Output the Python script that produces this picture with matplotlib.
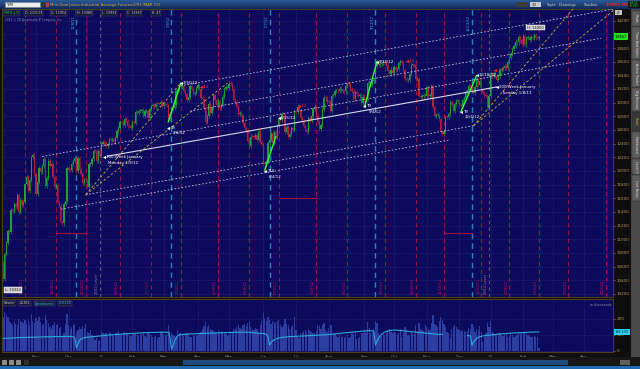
import numpy as np
import pandas as pd
import matplotlib
matplotlib.use("Agg")
import matplotlib.pyplot as plt
from matplotlib.patches import Rectangle
from matplotlib.colors import LinearSegmentedColormap
import matplotlib.transforms as mtransforms

nan = np.nan

# ---------------- data ----------------
holidays = ["2011-11-24", "2011-12-26", "2012-01-02", "2012-01-16", "2012-02-20", "2012-04-06",
            "2012-05-28", "2012-07-04", "2012-09-03", "2012-10-29", "2012-10-30", "2012-11-22",
            "2012-12-25", "2013-01-01", "2013-01-21", "2013-02-18", "2013-03-29"]

first_open = 10650
close_2011_10 = [10420, 10780, 10940, 11123, 11103, 11433, 11416, 11519, 11478, 11644, 11397, 11577, 11505, 11541, 11809, 11913, 11706, 11869, 12209, 12231, 11955]
close_2011_11 = [11658, 11836, 12044, 11983, 12069, 12170, 11781, 11894, 12153, 12079, 12096, 11906, 11770, 11796, 11547, 11494, 11258, 11231, 11523, 11556, 12046]
close_2011_12 = [12020, 12019, 12098, 12151, 12196, 11997, 12184, 12021, 11955, 11823, 11868, 11866, 11766, 12103, 12107, 12169, 12294, 12291, 12151, 12288, 12217]
close_2012_01 = [12397, 12418, 12415, 12360, 12393, 12462, 12449, 12471, 12422, 12482, 12578, 12623, 12720, 12709, 12675, 12758, 12735, 12660, 12653, 12633]
close_2012_02 = [12716, 12705, 12862, 12845, 12878, 12884, 12891, 12801, 12874, 12878, 12781, 12904, 12950, 12966, 12938, 12985, 12983, 12982, 13005, 12952]
close_2012_03 = [12980, 12977, 12962, 12759, 12837, 12907, 12922, 12959, 13177, 13194, 13253, 13232, 13239, 13170, 13124, 13046, 13081, 13241, 13197, 13126, 13145, 13212]
close_2012_04 = [13264, 13199, 13075, 13060, 12929, 12716, 12806, 12987, 12850, 12921, 13115, 13032, 12965, 13029, 12928, 12964, 13090, 13204, 13229, 13214]
close_2012_05 = [13280, 13269, 13207, 13038, 13008, 12932, 12835, 12855, 12821, 12695, 12632, 12598, 12442, 12369, 12504, 12502, 12496, 12529, 12455, 12581, 12419, 12393]
close_2012_06 = [12119, 12101, 12127, 12414, 12460, 12554, 12411, 12573, 12496, 12652, 12767, 12742, 12837, 12824, 12574, 12640, 12502, 12535, 12627, 12602, 12880]
close_2012_07 = [12871, 12943, 12897, 12772, 12736, 12653, 12605, 12573, 12777, 12727, 12806, 12909, 12943, 12823, 12722, 12618, 12676, 12888, 13075, 13073, 13009]
close_2012_08 = [13008, 12878, 13096, 13118, 13169, 13175, 13165, 13207, 13169, 13172, 13164, 13250, 13275, 13271, 13203, 13172, 13057, 13157, 13124, 13102, 13107, 13000, 13090]
close_2012_09 = [13035, 13047, 13292, 13306, 13254, 13323, 13333, 13539, 13593, 13553, 13565, 13577, 13596, 13579, 13558, 13457, 13413, 13485, 13437]
close_2012_10 = [13515, 13482, 13494, 13575, 13610, 13583, 13473, 13344, 13326, 13328, 13424, 13551, 13557, 13548, 13343, 13345, 13102, 13077, 13104, 13107, 13096]
close_2012_11 = [13232, 13093, 13112, 13245, 12932, 12811, 12815, 12815, 12757, 12570, 12542, 12588, 12796, 12788, 12836, 13010, 12968, 12878, 12985, 13022, 13025]
close_2012_12 = [12966, 12952, 13034, 13074, 13155, 13170, 13248, 13245, 13170, 13135, 13235, 13351, 13252, 13311, 13190, 13139, 13114, 13096, 12938, 13104]
close_2013_01 = [13412, 13391, 13435, 13384, 13328, 13390, 13471, 13488, 13507, 13534, 13511, 13596, 13650, 13712, 13779, 13825, 13895, 13881, 13954, 13910, 13861]
close_2013_02 = [13975, 13850, 13945, 13955, 13915, 13960, 13940, 13985, 13950, 13940, 13967]

vol_2011_10 = [210, 245, 230, 215, 190, 175, 160, 185, 170, 165, 200, 190, 180, 175, 195, 170, 185, 160, 230, 190, 175]
vol_2011_11 = [205, 190, 215, 180, 160, 170, 225, 195, 175, 150, 140, 165, 180, 160, 170, 145, 150, 95, 110, 170, 230]
vol_2011_12 = [165, 140, 150, 160, 170, 120, 130, 150, 140, 155, 145, 170, 120, 110, 130, 100, 90, 70, 80, 60, 70]
vol_2012_01 = [120, 115, 105, 110, 100, 120, 115, 105, 95, 110, 115, 125, 105, 100, 110, 120, 115, 110, 100, 95]
vol_2012_02 = [110, 105, 115, 100, 95, 100, 105, 110, 95, 90, 115, 105, 100, 85, 90, 95, 80, 90, 110, 120]
vol_2012_03 = [100, 95, 105, 160, 125, 110, 100, 95, 90, 130, 115, 110, 100, 95, 105, 110, 100, 85, 90, 95, 100, 95]
vol_2012_04 = [100, 110, 120, 140, 155, 180, 150, 160, 140, 130, 125, 120, 115, 130, 120, 125, 115, 110, 105, 95]
vol_2012_05 = [100, 110, 120, 135, 140, 150, 165, 145, 140, 160, 170, 155, 175, 185, 150, 140, 130, 145, 140, 120, 165, 190]
vol_2012_06 = [235, 200, 185, 215, 195, 170, 190, 180, 175, 185, 195, 160, 150, 165, 200, 170, 165, 140, 150, 160, 215]
vol_2012_07 = [130, 90, 80, 115, 110, 125, 130, 120, 140, 125, 120, 115, 110, 125, 160, 155, 140, 165, 175, 130, 120]
vol_2012_08 = [145, 160, 165, 110, 105, 95, 90, 100, 85, 95, 90, 85, 100, 80, 85, 110, 105, 120, 75, 80, 90, 110, 115]
vol_2012_09 = [125, 110, 180, 145, 115, 120, 140, 190, 175, 115, 100, 95, 105, 100, 110, 130, 140, 120, 115]
vol_2012_10 = [120, 110, 100, 115, 140, 90, 115, 150, 130, 100, 95, 120, 110, 105, 160, 120, 175, 140, 130, 125, 160]
vol_2012_11 = [150, 140, 130, 175, 225, 170, 160, 150, 185, 215, 195, 170, 150, 120, 110, 80, 140, 150, 160, 150, 140]
vol_2012_12 = [130, 125, 130, 125, 120, 125, 145, 135, 170, 150, 120, 140, 130, 155, 120, 60, 90, 110, 175, 150]
vol_2013_01 = [190, 120, 110, 105, 100, 110, 115, 100, 95, 100, 105, 90, 95, 105, 100, 90, 95, 100, 110, 105, 115]
vol_2013_02 = [120, 115, 110, 100, 95, 90, 85, 95, 90, 85, 20.812]

oi_2011_10 = [79, 79, 80, 80, 81, 81, 82, 82, 82, 83, 83, 84, 84, 84, 85, 85, 85, 86, 86, 86, 86]
oi_2011_11 = [87, 87, 87, 88, 88, 88, 88, 89, 89, 89, 89, 90, 90, 90, 90, 90, 90, 91, 91, 91, 91]
oi_2011_12 = [91, 91, 90, 89, 80, 19, 45, 68, 76, 80, 83, 85, 86, 87, 88, 89, 90, 91, 92, 93, 94]
oi_2012_01 = [95, 96, 97, 98, 99, 100, 101, 101, 102, 103, 104, 104, 105, 106, 106, 107, 108, 108, 109, 110]
oi_2012_02 = [110, 111, 111, 112, 112, 113, 113, 114, 114, 115, 115, 115, 116, 116, 116, 117, 117, 117, 117, 118]
oi_2012_03 = [118, 118, 117, 115, 90, 12, 35, 60, 80, 95, 100, 102, 103, 104, 105, 105, 106, 106, 107, 107, 108, 108]
oi_2012_04 = [109, 109, 110, 110, 110, 111, 111, 111, 112, 112, 112, 113, 113, 113, 114, 114, 114, 115, 115, 115]
oi_2012_05 = [115, 116, 116, 116, 117, 117, 117, 117, 118, 118, 118, 118, 117, 117, 116, 115, 114, 113, 112, 111, 110, 110]
oi_2012_06 = [109, 107, 104, 92, 37, 52, 63, 70, 75, 78, 81, 83, 85, 86, 87, 88, 89, 90, 90, 91, 91]
oi_2012_07 = [92, 92, 93, 93, 94, 94, 95, 95, 96, 96, 97, 97, 98, 98, 99, 99, 100, 100, 101, 101, 102]
oi_2012_08 = [103, 104, 105, 106, 107, 108, 109, 110, 111, 112, 113, 114, 115, 116, 117, 118, 119, 120, 121, 122, 123, 124, 125]
oi_2012_09 = [125, 126, 126, 127, 127, 126, 124, 37, 60, 80, 95, 105, 112, 118, 122, 125, 127, 129, 130]
oi_2012_10 = [131, 131, 130, 129, 128, 127, 126, 125, 124, 123, 122, 121, 120, 119, 118, 117, 116, 115, 114, 113, 112]
oi_2012_11 = [111, 110, 109, 108, 107, 106, 105, 104, 104, 104, 104, nan, nan, nan, nan, nan, nan, nan, nan, nan, nan]
oi_2012_12 = [nan, nan, nan, nan, nan, 96, 96, 94, 37, 55, 68, 79, 85, 89, 92, 94, 96, 97, 98, 99]
oi_2013_01 = [100, 101, 102, 103, 104, 105, 106, 107, 108, 108, 109, 110, 111, 111, 112, 113, 113, 114, 114, 115, 115]
oi_2013_02 = [116, 116, 117, 117, 118, 118, 118, 119, 119, 119, 119.1]

month_starts = ["2011-11-01", "2011-12-01", "2012-01-03", "2012-02-01", "2012-03-01", "2012-04-02",
                "2012-05-01", "2012-06-01", "2012-07-02", "2012-08-01", "2012-09-04", "2012-10-01",
                "2012-11-01", "2012-12-03", "2013-01-02", "2013-02-01", "2013-03-01", "2013-04-01"]
month_names = ["Nov", "Dec", "12", "Feb", "Mar", "Apr", "May", "Jun", "Jul", "Aug", "Sep", "Oct",
               "Nov", "Dec", "13", "Feb", "Mar", "Apr"]
opex_dates = ["2011-10-21", "2011-11-18", "2011-12-16", "2012-01-20", "2012-02-17", "2012-03-16",
              "2012-04-20", "2012-05-18", "2012-06-15", "2012-07-20", "2012-08-17", "2012-09-21",
              "2012-10-19", "2012-11-16", "2012-12-21", "2013-01-18", "2013-02-15", "2013-03-15",
              "2013-04-19"]
roll_dates = ["2011-12-08", "2012-03-08", "2012-06-07", "2012-09-13", "2012-12-13"]
year_end_dates = ["2011-12-30", "2012-12-31"]
year_end_labels = ["2011 Level", "2012 Level"]

channel_lines = [("2012-03-16", 13247, "2013-04-30", 14379),
                 ("2012-03-26", 12876, "2013-04-16", 13943),
                 ("2011-11-07", 12212, "2013-04-16", 13665),
                 ("2011-12-16", 11652, "2012-12-14", 12662),
                 ("2011-11-23", 11441, "2012-11-21", 12452)]
regression_line = ("2012-01-09", 12216, "2013-01-08", 13230)
fan_lines = [("2011-12-16", 11652, "2012-03-16", 13288),
             ("2011-12-16", 11652, "2012-04-30", 13288),
             ("2012-12-14", 12662, "2013-03-21", 14400),
             ("2012-12-14", 12662, "2013-04-30", 14390)]
swing_lines = [("2012-03-06", 12720, "2012-03-16", 13285),
               ("2012-06-04", 12015, "2012-06-13", 12500),
               ("2012-09-04", 12940, "2012-09-14", 13600),
               ("2012-12-04", 12870, "2012-12-18", 13395)]
range_lines = [("2011-11-18", "2011-12-16", 11088),
               ("2012-06-15", "2012-07-20", 11609),
               ("2012-11-16", "2012-12-13", 11092)]
white_notes = [("2012-01-05", 12205, "200-Week January", "Monday 1/9/12"),
               ("2012-03-06", 12634, "T8", "3/6/12"),
               ("2012-03-16", 13288, "3/16/12", ""),
               ("2012-06-04", 12000, "T10", "6/4/12"),
               ("2012-06-15", 12770, "6/15/12", ""),
               ("2012-09-04", 12945, "T9", "9/4/12"),
               ("2012-09-14", 13600, "9/14/12", ""),
               ("2012-12-04", 12870, "T9", "12/4/12"),
               ("2012-12-18", 13400, "12/18/12", ""),
               ("2013-01-08", 13230, "200 Week January", "Tuesday 1/8/13")]
red_notes = [("2012-04-04", 13234, "-12"), ("2012-07-05", 12956, "-12"),
             ("2012-10-11", 13610, "-12"), ("2013-01-07", 13478, "-12")]
price_ticks = list(range(10200, 14201, 200))
last_price = 13967
info_items = ["D: 2/15/13", "O: 13954", "H: 13980", "L: 13933", "C: 13967", "R: 47"]
high_label, low_label = "H: 14000", "L: 10320"
tab_names = ["Trade", "Time And Sales", "Active Trader", "Big Buttons", "Chart", "Dashboard", "Level II", "Live News"]

# ---------------- assemble ----------------
closes = np.array(close_2011_10 + close_2011_11 + close_2011_12 + close_2012_01 + close_2012_02 +
                  close_2012_03 + close_2012_04 + close_2012_05 + close_2012_06 + close_2012_07 +
                  close_2012_08 + close_2012_09 + close_2012_10 + close_2012_11 + close_2012_12 +
                  close_2013_01 + close_2013_02, float)
volume = np.array(vol_2011_10 + vol_2011_11 + vol_2011_12 + vol_2012_01 + vol_2012_02 + vol_2012_03 +
                  vol_2012_04 + vol_2012_05 + vol_2012_06 + vol_2012_07 + vol_2012_08 + vol_2012_09 +
                  vol_2012_10 + vol_2012_11 + vol_2012_12 + vol_2013_01 + vol_2013_02, float)
oi = np.array(oi_2011_10 + oi_2011_11 + oi_2011_12 + oi_2012_01 + oi_2012_02 + oi_2012_03 +
              oi_2012_04 + oi_2012_05 + oi_2012_06 + oi_2012_07 + oi_2012_08 + oi_2012_09 +
              oi_2012_10 + oi_2012_11 + oi_2012_12 + oi_2013_01 + oi_2013_02, float)
last_oi = oi[-1]

cal = pd.bdate_range("2011-10-03", "2013-04-30", freq="C", holidays=holidays)


def X(d):
    return float(cal.searchsorted(pd.Timestamp(d)))


def short(d):
    t = pd.Timestamp(d)
    return f"{t.month}/{t.day}/{t.year % 100}"


W, H = 640, 369
NAVY = "#0c0a5c"
BORDER = "#4d3c1e"
TAN = "#b39560"

fig = plt.figure(figsize=(6.4, 3.69), dpi=100)
fig.patch.set_facecolor("#0e0e0e")


def frect(x0, y0, x1, y1):
    return [x0 / W, 1 - y1 / H, (x1 - x0) / W, (y1 - y0) / H]


def box(x0, y0, x1, y1, fc, ec="none", lw=0.4, z=5):
    fig.patches.append(Rectangle((x0 / W, 1 - y1 / H), (x1 - x0) / W, (y1 - y0) / H,
                                 transform=fig.transFigure, facecolor=fc, edgecolor=ec,
                                 lw=lw, zorder=z))


def ftext(x, y, s, **kw):
    kw.setdefault("va", "center")
    kw.setdefault("zorder", 10)
    fig.text(x / W, 1 - y / H, s, **kw)


# ---------- main price panel ----------
ax = fig.add_axes(frect(2, 9, 613, 297))
ax.set_facecolor(NAVY)
ax.set_xlim(-0.8, 391.6)
ax.set_ylim(10155, 14371)
mx = [X(d) for d in month_starts]
ax.set_xticks(mx)
ax.set_yticks(price_ticks)
# the 14000 label sits under the last-price box in the reference
ax.set_yticklabels(["" if abs(t - last_price) < 60 else str(t) for t in price_ticks])
ax.yaxis.tick_right()
ax.tick_params(axis="y", labelsize=3, labelcolor=TAN, color=TAN, length=1.5, width=0.4, pad=1)
ax.tick_params(axis="x", length=0, labelbottom=False)
ax.grid(True, color="#3a3a86", ls=(0, (1, 2)), lw=0.5)
ax.set_axisbelow(True)
for s in ax.spines.values():
    s.set_color(BORDER)
    s.set_linewidth(0.8)

# vertical event lines
for d in opex_dates:
    xi = X(d)
    ax.axvline(xi, color="#a0103c", ls=(0, (4, 3)), lw=0.8, zorder=1)
    ax.text(xi - 0.7, 10205, short(d), rotation=90, ha="right", va="bottom",
            fontsize=2.6, color="#c01848", zorder=2)
for d in roll_dates:
    xi = X(d)
    ax.axvline(xi, color="#2a88b4", ls=(0, (4, 3)), lw=1.0, zorder=1)
    ax.text(xi - 0.6, 14280, short(d), rotation=90, ha="right", va="top",
            fontsize=2.6, color="#38b0d8", zorder=2)
for d, lab in zip(year_end_dates, year_end_labels):
    xi = X(d)
    ax.axvline(xi, color="#5c5c70", ls=(0, (3, 3)), lw=0.8, zorder=1)
    ax.text(xi - 0.7, 10205, lab, rotation=90, ha="right", va="bottom",
            fontsize=2.6, color="#8a8a8a", zorder=2)

# candles
n = len(closes)
xs = np.arange(n)
opens = np.concatenate([[first_open], closes[:-1]])
up = closes >= opens
cols = np.where(up, "#1f9e3c", "#b1203f")
lo = np.minimum(opens, closes)
hi = np.maximum(opens, closes)
WICK = 30
ax.vlines(xs, lo - WICK, hi + WICK, colors=cols, lw=0.45, zorder=3)
ax.bar(xs, np.maximum(hi - lo, 12), bottom=lo, width=0.8, color=cols, lw=0, zorder=3)

# red range lines
for d0, d1, p in range_lines:
    ax.plot([X(d0), X(d1)], [p, p], color="#a01040", lw=0.8, zorder=4)

# channel lines
for d0, p0, d1, p1 in channel_lines:
    ax.plot([X(d0), X(d1)], [p0, p1], color="#c6c6e6", lw=0.6, ls=(0, (2, 2.2)), zorder=4)
d0, p0, d1, p1 = regression_line
ax.plot([X(d0), X(d1)], [p0, p1], color="#d8d8e8", lw=0.8, zorder=4)
for d0, p0, d1, p1 in fan_lines:
    ax.plot([X(d0), X(d1)], [p0, p1], color="#c8b040", lw=0.6, ls=(0, (3, 2.5)), zorder=4)
for d0, p0, d1, p1 in swing_lines:
    ax.plot([X(d0), X(d1)], [p0, p1], color="#33ff33", lw=1.0, zorder=5)

# notes
for d, p, t1, t2 in white_notes:
    xi = X(d)
    ax.plot([xi], [p], marker="<", ms=2.2, color="white", mec="none", zorder=6)
    ax.text(xi + 1.3, p, t1, fontsize=2.9, color="white", va="center", ha="left", zorder=6)
    if t2:
        ax.text(xi + 2.5, p - 85, t2, fontsize=2.9, color="white", va="center", ha="left", zorder=6)
for d, p, t in red_notes:
    xi = X(d)
    ax.plot([xi], [p], marker="<", ms=2.2, color="#ff2020", mec="none", zorder=6)
    ax.text(xi + 1.3, p, t, fontsize=2.9, color="#ff3030", va="center", ha="left", zorder=6)

ax.text(X("2013-02-12") + 1, 14100, high_label, fontsize=2.6, color="#202020", ha="center",
        va="center", zorder=7,
        bbox=dict(boxstyle="square,pad=0.25", fc="#d0d0d0", ec="#ffffff", lw=0.3))
ax.text(1.0, 10255, low_label, fontsize=2.6, color="#202020", ha="left", va="center", zorder=7,
        bbox=dict(boxstyle="square,pad=0.25", fc="#d0d0d0", ec="#ffffff", lw=0.3))
# copyright line sits just below the info row (about y = 20 px)
ax.text(0.005, 0.962, "2012 \u00a9 TD Ameritrade IP Company, Inc.", transform=ax.transAxes,
        fontsize=2.1, color="#8a8ab0", ha="left", va="center", zorder=7)

trans = mtransforms.blended_transform_factory(ax.transAxes, ax.transData)
ax.text(1.003, last_price, str(last_price), transform=trans, fontsize=2.8, color="#000000",
        ha="left", va="center", zorder=8, clip_on=False,
        bbox=dict(boxstyle="square,pad=0.3", fc="#22e022", ec="none"))

# ---------- volume panel ----------
av = fig.add_axes(frect(2, 299, 613, 352))
av.set_facecolor(NAVY)
av.set_xlim(-0.8, 391.6)
av.set_ylim(-6.25, 325)
av.bar(xs, volume, width=0.8, color="#2c3ea2", lw=0, zorder=2)
av.plot(xs, oi, color="#2aaad8", lw=0.8, zorder=3)
av.set_xticks(mx)
av.set_xticklabels(month_names)
av.tick_params(axis="x", length=0, labelsize=3, labelcolor="#8c8c8c", pad=2)
av.set_yticks([0, 100, 200])
av.set_yticklabels(["0", "100", "200"])
av.yaxis.tick_right()
av.tick_params(axis="y", labelsize=3, labelcolor=TAN, color=TAN, length=1.5, width=0.4, pad=1)
av.grid(True, color="#3a3a86", ls=(0, (1, 2)), lw=0.5)
av.set_axisbelow(True)
for s in av.spines.values():
    s.set_color(BORDER)
    s.set_linewidth(0.8)
transv = mtransforms.blended_transform_factory(av.transAxes, av.transData)
av.text(1.003, last_oi, f"{last_oi * 1000:,.0f}", transform=transv, fontsize=2.4, color="#002030",
        ha="left", va="center", zorder=8, clip_on=False,
        bbox=dict(boxstyle="square,pad=0.25", fc="#30d0f0", ec="none"))
av.text(0.997, 0.93, "in thousands", transform=av.transAxes, fontsize=2.4, color="#9090a0",
        ha="right", va="top")

# volume panel header boxes
vb = dict(boxstyle="square,pad=0.2", fc="#16163a", ec="#5a5a6a", lw=0.3)
ftext(4, 303.5, "Volume", fontsize=2.2, color="#d0d0d0", bbox=vb)
ftext(20, 303.5, f"{volume[-1] * 1000:,.0f}", fontsize=2.2, color="#d0d0d0", bbox=vb)
ftext(35, 303.5, "OpenInterest", fontsize=2.2, color="#30c0f0", bbox=vb)
ftext(59, 303.5, f"{last_oi * 1000:,.0f}", fontsize=2.2, color="#30c0f0", bbox=vb)

# ---------- header ----------
ah = fig.add_axes(frect(0, 0, 640, 9))
ah.imshow(np.linspace(0, 1, 20)[:, None],
          cmap=LinearSegmentedColormap.from_list("hdr", ["#2c5a98", "#102a58"]),
          aspect="auto", extent=[0, 1, 0, 1])
ah.axis("off")
box(5, 1.8, 40, 7.2, "#ececec", ec="#808080", z=6)
ftext(7, 4.6, "YM", fontsize=2.8, color="#000000")
box(41, 1.8, 45, 7.2, "#333333", z=6)
box(46, 2.5, 49, 6.5, "#c83a3a", z=6)
ftext(50, 4.6, "Mini Dow Jones Industrial Average Futures,ETH (MAR 13)", fontsize=2.8, color="#e0a040")
box(517, 1.8, 528, 7.2, "#3c3c3c", z=6)
box(530, 1.8, 541, 7.2, "#c8c8c8", z=6)
ftext(532, 4.6, "1D", fontsize=2.5, color="#000000")
ftext(547, 4.6, "Style", fontsize=2.7, color="#d0d0d0")
ftext(559, 4.6, "Drawings", fontsize=2.7, color="#d0d0d0")
ftext(584, 4.6, "Studies", fontsize=2.7, color="#d0d0d0")
ftext(606, 4.6, f"{last_price:.2f}", fontsize=3.2, color="#ff2020", fontweight="bold")
box(628, 1.0, 640, 8.0, "#101010", z=6)
ftext(629, 3.0, "+26.00", fontsize=1.9, color="#20e040")
ftext(629, 6.2, "+0.19%", fontsize=1.9, color="#20e040")

# info row
ib = dict(boxstyle="square,pad=0.2", fc="#14143a", ec="#55556a", lw=0.3)
ftext(4, 13, "YM D y D", fontsize=2.3, color="#20e040", bbox=ib)
xpos = [25, 51, 77, 102, 127, 152]
for xp, s in zip(xpos, info_items):
    ftext(xp, 13, s, fontsize=2.3, color="#d0d0d0", bbox=ib)

# price column icon
box(615, 10, 622, 15, "#c0c0c0", z=6)
ftext(616.5, 12.5, "Z", fontsize=2.5, color="#202020")

# right tab strip
box(631, 9, 640, 357, "#4a4a4a", z=4)
tab_y = [(11, 26), (27, 59), (60, 87), (88, 111), (112, 131), (132, 158), (159, 174), (175, 201)]
for (y0, y1), name in zip(tab_y, tab_names):
    hl = name == "Chart"
    box(632, y0, 639.5, y1, "#5e5e5e" if not hl else "#3a3a3a", ec="#2a2a2a", lw=0.3, z=5)
    ftext(635.8, (y0 + y1) / 2, name, fontsize=2.3, color="#e0c040" if hl else "#dcdcdc",
          rotation=270, ha="center")

# bottom bar
box(0, 357, 640, 369, "#161616", z=3)
box(183, 360, 568, 365, "#1c4a7a", z=4)
for cx in [4, 11, 18]:
    box(cx - 2.5, 360, cx + 2.5, 365, "#8a8a8a", z=4)
box(24, 360, 29, 365, "#303030", z=4)
box(620, 360, 630, 365, "#606060", z=4)
box(0, 366, 640, 369, "#1f6db0", z=5)

fig.savefig("out.png", dpi=100, facecolor=fig.get_facecolor())
